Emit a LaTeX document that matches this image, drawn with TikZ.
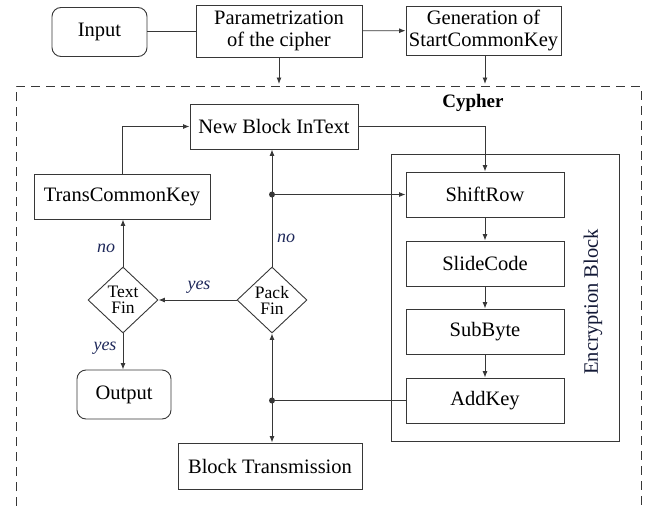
\documentclass[tikz,border=0pt]{standalone}
\usepackage{fontspec}
\setmainfont{Liberation Serif}
\usetikzlibrary{shapes.geometric, arrows.meta}
\definecolor{lineg}{RGB}{55,55,55}
\definecolor{notec}{RGB}{30,40,90}
\begin{document}
\begin{tikzpicture}[x=1pt, y=-1pt, line width=0.9pt, color=lineg,
  >={Latex[length=6.5pt, width=5pt]},
  every node/.style={text=black, font=\fontsize{20.5}{22}\selectfont, inner sep=0pt},
  box/.style={draw=lineg, rectangle, align=center},
  rbox/.style={box, rounded corners=9pt},
  dec/.style={draw=lineg, diamond, align=center, font=\fontsize{17.5}{16}\selectfont},
  note/.style={text=notec, font=\fontsize{18}{19}\selectfont\itshape}]
\useasboundingbox (0,0) rectangle (651,506);

\node[rbox, minimum width=95pt, minimum height=49pt] (input) at (99.5,32) {Input};
\node[box, minimum width=166pt, minimum height=52pt] (param) at (279,31) {Parametrization\\of the cipher};
\node[box, minimum width=155pt, minimum height=49pt] (gen) at (483.5,30.5) {Generation of\\StartCommonKey};
\coordinate (pin) at (279,84);
\coordinate (gin) at (485,84);

\draw[dashed, dash pattern=on 9pt off 6pt] (16,506) -- (16,86) -- (641,86) -- (641,506);
\node[font=\fontsize{19}{20}\selectfont\bfseries] (cypher) at (473,103) {Cypher};

\node[box, minimum width=168pt, minimum height=45pt] (newblock) at (274,126.5) {New Block InText};
\node[box, minimum width=176pt, minimum height=45pt] (trans) at (122,196.5) {TransCommonKey};
\node[dec, minimum width=70pt, minimum height=66pt] (textfin) at (123,300) {Text\\Fin};
\node[dec, minimum width=70pt, minimum height=66pt] (packfin) at (272,300) {Pack\\Fin};
\node[rbox, minimum width=94pt, minimum height=49pt] (output) at (124,394.5) {Output};
\node[box, minimum width=184pt, minimum height=46pt] (blocktx) at (270,466) {Block Transmission};

\node[box, minimum width=228pt, minimum height=287pt] (encblock) at (505,297.5) {};
\node[box, minimum width=158pt, minimum height=45pt] (shiftrow) at (485,194.5) {ShiftRow};
\node[box, minimum width=158pt, minimum height=45pt] (slidecode) at (485,263.5) {SlideCode};
\node[box, minimum width=158pt, minimum height=45pt] (subbyte) at (485,331.5) {SubByte};
\node[box, minimum width=158pt, minimum height=45pt] (addkey) at (485,400.5) {AddKey};
\node[rotate=90, text=notec!60!black] (enclabel) at (593,302) {Encryption Block};

\coordinate (dot1) at (packfin.north |- shiftrow.west);
\coordinate (dot2) at (packfin.south |- addkey.west);
\fill (dot1) circle (3pt);
\fill (dot2) circle (3pt);

\draw (input.east |- param.west) -- (param.west);
\draw[->] (param) -- (gen);
\draw[->] (param.south) -- (pin);
\draw[->] (gen.south -| gin) -- (gin);

\draw[->] (trans.north) |- (newblock.west);
\draw[->] (newblock.east) -| (shiftrow.north);
\draw[->] (textfin.north) -- (textfin.north |- trans.south);
\draw[->] (packfin.north) -- (packfin.north |- newblock.south);
\draw[->] (dot1) -- (shiftrow.west);
\draw[->] (packfin.west) -- (textfin.east);
\draw[->] (textfin.south) -- (textfin.south |- output.north);
\draw[->] (dot2) -- (packfin.south);
\draw[->] (dot2) -- (dot2 |- blocktx.north);
\draw (addkey.west) -- (dot2);

\draw[->] (shiftrow) -- (slidecode);
\draw[->] (slidecode) -- (subbyte);
\draw[->] (subbyte) -- (addkey);

\node[note] (no1) at (106,248) {no};
\node[note] (no2) at (286,238) {no};
\node[note] (yes1) at (199,287) {yes};
\node[note] (yes2) at (105,348) {yes};
\end{tikzpicture}
\end{document}
